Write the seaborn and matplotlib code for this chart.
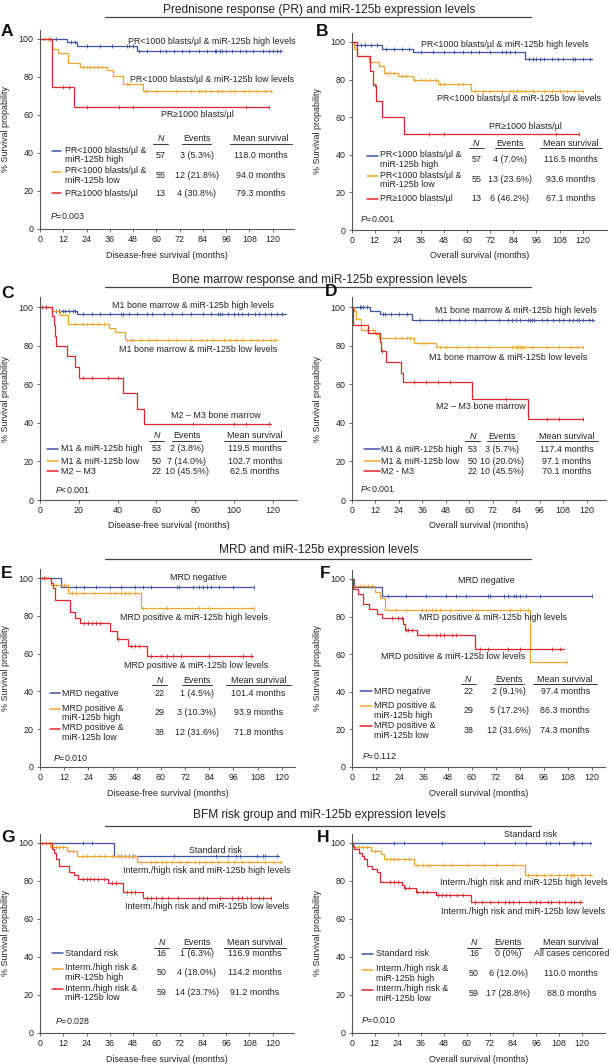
import numpy as np
import pandas as pd
import matplotlib
matplotlib.use("Agg")
import matplotlib.pyplot as plt
import seaborn as sns
from matplotlib.lines import Line2D

# ---------------- data (months, % survival) ----------------
# Panel A - PR & miR-125b, disease-free survival
a_hi_t = [0, 13.8, 19.3, 50]
a_hi_s = [100, 98.2, 96.5, 93.5]
a_hi_end = 124.6
a_hi_c = [5, 8, 16, 18, 24, 31, 37, 45, 46, 48, 51, 55, 62, 65, 69, 73, 77, 82, 86, 90,
          91, 93, 94, 96, 99, 103, 106, 110, 115, 118, 120, 122, 124]
a_lo_t = [0, 6, 9.5, 14.6, 20.6, 34.7, 37.8, 43, 53]
a_lo_s = [100, 94.5, 92.7, 87.3, 85.5, 83.6, 80.6, 76.4, 72.8]
a_lo_end = 119.5
a_lo_c = [2, 4, 22, 24, 26, 28, 30, 32, 45, 46, 54, 55, 60, 70, 78, 82, 83, 85, 88, 92,
          94, 98, 100, 105, 108, 112, 116, 119]
a_pr_t = [0, 6, 17.5]
a_pr_s = [100, 75, 64.2]
a_pr_end = 118
a_pr_c = [12, 15, 24, 41, 48, 106, 118]

# Panel B - PR & miR-125b, overall survival
b_hi_t = [0, 1.4, 16, 32, 90]
b_hi_s = [100, 98.2, 96.5, 94.7, 90.8]
b_hi_end = 125
b_hi_c = [3, 5, 7, 10, 13, 18, 22, 26, 30, 36, 42, 48, 53, 58, 62, 66, 72, 78, 80, 82,
          85, 92, 94, 96, 98, 100, 104, 107, 110, 115, 116, 120, 124]
b_lo_t = [0, 1, 3, 9, 14, 17, 24, 32, 45, 62]
b_lo_s = [100, 96.4, 92.7, 89.1, 87.3, 83.6, 81.8, 80, 77.6, 74.2]
b_lo_end = 120
b_lo_c = [18, 20, 22, 26, 28, 33, 36, 38, 40, 44, 46, 48, 55, 58, 64, 68, 72, 78, 82, 84,
          86, 88, 90, 94, 100, 104, 108, 112, 116, 120]
b_pr_t = [0, 3, 9.5, 11, 12.5, 15.5, 27]
b_pr_s = [100, 92.3, 84.6, 76.9, 68.4, 60, 51.3]
b_pr_end = 118
b_pr_c = [12, 40, 48, 106, 118]

# Panel C - bone marrow & miR-125b, disease-free survival
c_hi_t = [0, 6, 19.3]
c_hi_s = [100, 98.1, 96.2]
c_hi_end = 127
c_hi_c = [1, 3, 8, 10, 12, 13, 15, 17, 18, 22, 27, 31, 36, 42, 43, 46, 50, 55, 58, 64,
          68, 73, 78, 84, 88, 92, 93, 94, 97, 100, 102, 104, 107, 111, 113, 116, 119, 122, 125]
c_lo_t = [0, 6, 10.3, 14.6, 35.8, 38.7, 43.8]
c_lo_s = [100, 98, 96, 91, 89, 87, 82.7]
c_lo_end = 122
c_lo_c = [18, 22, 24, 27, 30, 33, 45, 47, 48, 52, 56, 60, 66, 70, 78, 83, 86, 89, 95, 98,
          101, 104, 109, 112, 115, 119, 121]
c_m23_t = [0, 6, 7, 7.5, 8, 14, 18, 20, 43, 50, 53.5]
c_m23_s = [100, 95.5, 90.9, 85, 80, 74.5, 68.8, 63.2, 55.3, 47.3, 39.5]
c_m23_end = 119
c_m23_c = [3, 22, 27, 35, 40, 79, 100, 106, 118]

# Panel D - bone marrow & miR-125b, overall survival
d_hi_t = [0, 9.2, 14.6, 31]
d_hi_s = [100, 98.1, 96.2, 93.4]
d_hi_end = 124
d_hi_c = [4, 5, 6, 8, 16, 17, 20, 24, 28, 35, 44, 46, 50, 55, 58, 63, 68, 75, 80, 82, 84,
          86, 90, 91, 92, 93, 97, 100, 103, 106, 108, 111, 113, 115, 116, 118, 121, 123]
d_lo_t = [0, 1, 2, 5, 12, 14, 32, 43]
d_lo_s = [100, 98, 94, 88, 86, 84, 81.6, 79.2]
d_lo_end = 118
d_lo_c = [8, 11, 22, 25, 28, 30, 36, 38, 45, 48, 54, 60, 64, 70, 82, 84, 85, 86, 87, 88,
          92, 100, 106, 112, 115, 118]
d_m23_t = [0, 0.5, 8.4, 14.3, 15, 17.3, 25, 26.4, 61.3, 89.8]
d_m23_s = [100, 90.9, 86.4, 81.8, 77, 71.5, 66, 61.3, 52.6, 42.1]
d_m23_end = 118
d_m23_c = [15.5, 32, 38, 44, 50, 79, 100, 106, 118]

# Panel E - MRD & miR-125b, disease-free survival
e_neg_t = [0, 10.3]
e_neg_s = [100, 95.5]
e_neg_end = 106.3
e_neg_c = [2, 14, 18, 22, 28, 35, 40, 47, 51, 55, 68, 69, 76, 79, 81, 83, 85, 89, 96, 106]
e_hi_t = [0, 5.5, 14, 50]
e_hi_s = [100, 96.5, 92.3, 83.9]
e_hi_end = 106.3
e_hi_c = [1, 3, 8, 12, 16, 18, 22, 27, 35, 37, 40, 42, 44, 47, 51, 63, 79, 84, 106]
e_lo_t = [0, 5.5, 6.5, 7.5, 15, 17.5, 20, 35, 38, 43.5, 53]
e_lo_s = [100, 97.4, 94.7, 88.3, 82, 79, 76, 72, 68, 64, 58.5]
e_lo_end = 105.6
e_lo_c = [22, 24, 26, 28, 30, 38.5, 45, 47, 49, 55, 60, 63, 66, 70, 84, 101, 105]

# Panel F - MRD & miR-125b, overall survival
f_neg_t = [0, 1.3, 15]
f_neg_s = [100, 95.5, 90.9]
f_neg_end = 120
f_neg_c = [18, 27, 37, 47, 52, 57, 68, 69, 76, 78, 81, 82, 84, 87, 94, 120]
f_hi_t = [0, 0.5, 11.5, 14, 16.4, 89]
f_hi_s = [100, 96.5, 93, 89.7, 83.6, 56]
f_hi_end = 107.5
f_hi_c = [4, 6, 8, 10, 22, 27, 35, 37, 40, 42, 44, 49, 60, 79, 84, 88, 107]
f_lo_t = [0, 0.5, 3.3, 5.5, 8.7, 12.5, 15, 25.8, 26.7, 32.5, 61.7]
f_lo_s = [100, 94.7, 92.1, 86.8, 84.2, 81.6, 79, 76.3, 73.1, 70, 63]
f_lo_end = 106
f_lo_c = [20, 23, 25, 27, 28, 30, 38, 42, 44, 46, 50, 52, 64, 68, 78, 84, 100, 104]

# Panel G - BFM risk & miR-125b, disease-free survival
g_std_t = [0, 38.3]
g_std_s = [100, 93]
g_std_end = 123.4
g_std_c = [22, 27, 40, 42, 46, 48, 69, 91, 97, 101, 103, 112, 115, 116, 122]
g_hi_t = [0, 5.2, 13.8, 19, 50]
g_hi_s = [100, 98, 96, 93, 90.2]
g_hi_end = 124.6
g_hi_c = [1, 3, 5, 8, 10, 12, 15, 17, 22, 24, 28, 31, 33, 37, 40, 42, 44, 46, 49, 52, 57,
          60, 63, 65, 68, 72, 76, 80, 82, 85, 88, 92, 97, 100, 104, 108, 112, 116, 120, 124]
g_lo_t = [0, 6, 7, 8.3, 10, 15.1, 17.5, 19.8, 35.2, 43, 53]
g_lo_s = [100, 96.6, 94.9, 91.5, 88.1, 84.7, 83, 81.2, 79, 74, 71.3]
g_lo_end = 119
g_lo_c = [22, 24, 26, 28, 30, 33, 37, 39, 45, 47, 49, 55, 57, 60, 63, 66, 71, 82, 84, 86,
          93, 99, 102, 104, 107, 109, 113, 115, 119]

# Panel H - BFM risk & miR-125b, overall survival
h_std_t = [0]
h_std_s = [100]
h_std_end = 124.8
h_std_c = [22, 27, 47, 69, 85, 91, 101, 103, 108, 115, 116, 120, 124]
h_hi_t = [0, 0.5, 9.9, 15, 16.8, 32.4, 90]
h_hi_s = [100, 98, 96, 94, 91.4, 88.6, 83.3]
h_hi_end = 125
h_hi_c = [4, 6, 8, 12, 18, 20, 22, 24, 28, 30, 34, 37, 39, 41, 48, 52, 60, 69, 75, 84, 92,
          96, 100, 104, 108, 112, 114, 115, 116, 120, 124]
h_lo_t = [0, 0.5, 1.2, 3.8, 5.2, 6.4, 8.1, 10.8, 13.4, 14.7, 26.4, 27.2, 33.3, 43.7, 61.9]
h_lo_s = [100, 98.3, 96.6, 94.9, 93.2, 91.5, 88.1, 86.4, 84.7, 79.7, 77.9, 76.1, 74.4, 72.5, 69.1]
h_lo_end = 120
h_lo_c = [20, 22, 24, 28, 30, 34, 37, 39, 45, 47, 49, 51, 55, 58, 64, 68, 72, 76, 80, 82,
          84, 87, 93, 96, 98, 102, 104, 108, 111, 114, 116, 119]

# table text
pr_legend = ["PR<1000 blasts/µl &\nmiR-125b high", "PR<1000 blasts/µl &\nmiR-125b low", "PR≥1000 blasts/µl"]
bm_legend_c = ["M1 & miR-125b high", "M1 & miR-125b low", "M2 – M3"]
bm_legend_d = ["M1 & miR-125b high", "M1 & miR-125b low", "M2 - M3"]
mrd_legend = ["MRD negative", "MRD positive &\nmiR-125b high", "MRD positive &\nmiR-125b low"]
bfm_legend = ["Standard risk", "Interm./high risk &\nmiR-125b high", "Interm./high risk &\nmiR-125b low"]

a_n, a_ev, a_mean = [57, 55, 13], ["3 (5.3%)", "12 (21.8%)", "4 (30.8%)"], ["118.0 months", "94.0 months", "79.3 months"]
b_n, b_ev, b_mean = [57, 55, 13], ["4 (7.0%)", "13 (23.6%)", "6 (46.2%)"], ["116.5 months", "93.6 months", "67.1 months"]
c_n, c_ev, c_mean = [53, 50, 22], ["2 (3.8%)", "7 (14.0%)", "10 (45.5%)"], ["119.5 months", "102.7 months", "62.5 months"]
d_n, d_ev, d_mean = [53, 50, 22], ["3 (5.7%)", "10 (20.0%)", "10 (45.5%)"], ["117.4 months", "97.1 months", "70.1 months"]
e_n, e_ev, e_mean = [22, 29, 38], ["1 (4.5%)", "3 (10.3%)", "12 (31.6%)"], ["101.4 months", "93.9 months", "71.8 months"]
f_n, f_ev, f_mean = [22, 29, 38], ["2 (9.1%)", "5 (17.2%)", "12 (31.6%)"], ["97.4 months", "86.3 months", "74.3 months"]
g_n, g_ev, g_mean = [16, 50, 59], ["1 (6.3%)", "4 (18.0%)", "14 (23.7%)"], ["116.9 months", "114.2 months", "91.2 months"]
h_n, h_ev, h_mean = [16, 50, 59], ["0 (0%)", "6 (12.0%)", "17 (28.8%)"], ["All cases cencored", "110.0 months", "88.0 months"]

p_values = ["=0.003", "=0.001", "<0.001", "<0.001", "=0.010", "=0.112", "=0.028", "=0.010"]

section_titles = ["Prednisone response (PR) and miR-125b expression levels",
                  "Bone marrow response and miR-125b expression levels",
                  "MRD and miR-125b expression levels",
                  "BFM risk group and miR-125b expression levels"]

# ---------------- style ----------------
FS = 6.4
sns.set_theme(style="ticks", rc={
    "axes.edgecolor": "#555555", "axes.linewidth": 0.8,
    "xtick.color": "#555555", "ytick.color": "#555555",
    "xtick.labelcolor": "#222222", "ytick.labelcolor": "#222222",
    "xtick.major.size": 2.5, "ytick.major.size": 2.5,
    "xtick.major.width": 0.6, "ytick.major.width": 0.6,
    "xtick.labelsize": FS, "ytick.labelsize": FS,
    "axes.labelsize": FS, "axes.labelcolor": "#222222",
    "xtick.major.pad": 2, "ytick.major.pad": 2,
})
plt.rcParams["font.family"] = ["Liberation Sans", "DejaVu Sans"]
plt.rcParams["mathtext.fontset"] = "custom"
plt.rcParams["mathtext.rm"] = "Liberation Sans"
plt.rcParams["mathtext.it"] = "Liberation Sans:italic"

pal = {"g1": "#3d54a5", "g2": "#f5a42c", "g3": "#e2242b"}
W, H = 611, 1064
fig = plt.figure(figsize=(W / 100, H / 100), dpi=100)


def step_value(t, s, x):
    return s[np.searchsorted(t, x, side="right") - 1]


def draw_panel(rect, xmax, xticks, groups, xlabel, curve_labels, legend, table, p_text, p_xy):
    left, top, wd, ht = rect
    ax = fig.add_axes([left / W, 1 - (top + ht) / H, wd / W, ht / H])
    rows, crows = [], []
    for key, (t, s, end, cens) in zip(["g1", "g2", "g3"], groups):
        for ti, si in zip(t + [end], s + [s[-1]]):
            rows.append((ti, si, key))
        for c in cens:
            crows.append((c, step_value(np.array(t), np.array(s), c), key))
    df = pd.DataFrame(rows, columns=["t", "s", "g"])
    cdf = pd.DataFrame(crows, columns=["t", "s", "g"])
    sns.lineplot(data=df, x="t", y="s", hue="g", palette=pal, drawstyle="steps-post",
                 estimator=None, sort=False, legend=False, linewidth=0.9, ax=ax)
    for key in ["g1", "g2", "g3"]:
        sub = cdf[cdf.g == key]
        sns.scatterplot(x=sub.t, y=sub.s, color=pal[key], marker="|", s=11,
                        linewidth=0.6, legend=False, ax=ax)
    ax.set_xlim(0, xmax)
    ax.set_ylim(0, 105)
    ax.set_xticks(xticks)
    ax.set_yticks([0, 20, 40, 60, 80, 100])
    ax.set_xlabel(xlabel, labelpad=4.5)
    ax.set_ylabel("% Survival propability", labelpad=6)
    sns.despine(ax=ax)

    for txt, x, y in curve_labels:
        ax.text(x, y, txt, fontsize=FS, ha="center", va="center", color="#222222")

    lx0, lx1, tx, hy, cols, rys = legend
    labels, ns, evs, means = table
    under = [3.8, 7.5, 16]
    for cx, head, uw in zip(cols, ["N", "Events", "Mean survival"], under):
        ax.text(cx, hy, head, fontsize=FS, ha="center", va="center", color="#222222",
                fontstyle="italic" if head == "N" else "normal")
        ax.plot([cx - uw, cx + uw], [hy - 2.7, hy - 2.7], color="#333333", lw=0.7)
    for key, lab, n, ev, mn, ry in zip(["g1", "g2", "g3"], labels, ns, evs, means, rys):
        ly = ry + (2.0 if "\n" in lab else 0)
        ax.plot([lx0, lx1], [ly, ly], color=pal[key], lw=1.1)
        ax.text(tx, ry, lab, fontsize=FS, ha="left", va="center", color="#222222",
                linespacing=1.1)
        ax.text(cols[0], ry, str(n), fontsize=FS, ha="center", va="center", color="#222222")
        ax.text(cols[1], ry, ev, fontsize=FS, ha="center", va="center", color="#222222")
        ax.text(cols[2], ry, mn, fontsize=FS, ha="center", va="center", color="#222222")
    ax.text(p_xy[0], p_xy[1], r"$\mathit{P}$" + p_text, fontsize=FS, ha="left",
            va="center", color="#222222")
    return ax


m12 = list(range(0, 121, 12))
dfs = "Disease-free survival (months)"
os_ = "Overall survival (months)"

draw_panel((40, 29.5, 254, 199.5), 131, m12,
           [(a_hi_t, a_hi_s, a_hi_end, a_hi_c), (a_lo_t, a_lo_s, a_lo_end, a_lo_c),
            (a_pr_t, a_pr_s, a_pr_end, a_pr_c)], dfs,
           [("PR<1000 blasts/µl & miR-125b high levels", 88.6, 98.8),
            ("PR<1000 blasts/µl & miR-125b low levels", 88.6, 78.6),
            ("PR≥1000 blasts/µl", 81, 60.2)],
           (6, 11, 12.9, 47.4, [62.2, 80.8, 113.8], [38.9, 28.1, 18.9]),
           (pr_legend, a_n, a_ev, a_mean), p_values[0], (5.2, 6.7))

draw_panel((351.7, 32.6, 255, 197.4), 132.5, m12,
           [(b_hi_t, b_hi_s, b_hi_end, b_hi_c), (b_lo_t, b_lo_s, b_lo_end, b_lo_c),
            (b_pr_t, b_pr_s, b_pr_end, b_pr_c)], os_,
           [("PR<1000 blasts/µl & miR-125b high levels", 79.8, 98.9),
            ("PR<1000 blasts/µl & miR-125b low levels", 86.8, 70),
            ("PR≥1000 blasts/µl", 90, 55)],
           (7.8, 13.9, 14.8, 46.1, [64.7, 82, 114], [37.4, 26.6, 16.5]),
           (pr_legend, b_n, b_ev, b_mean), p_values[1], (4.3, 5.9))

draw_panel((40, 297.4, 257, 202.6), 132.5, list(range(0, 121, 20)),
           [(c_hi_t, c_hi_s, c_hi_end, c_hi_c), (c_lo_t, c_lo_s, c_lo_end, c_lo_c),
            (c_m23_t, c_m23_s, c_m23_end, c_m23_c)], dfs,
           [("M1 bone marrow & miR-125b high levels", 79, 100.7),
            ("M1 bone marrow & miR-125b low levels", 81.7, 77.9),
            ("M2 – M3 bone marrow", 90.7, 44)],
           (3.4, 9.5, 10.7, 33.2, [60.2, 75.6, 110.9], [26.5, 20.2, 15]),
           (bm_legend_c, c_n, c_ev, c_mean), p_values[2], (7.7, 5.2))

draw_panel((351.7, 297.4, 254.5, 202.6), 130, m12,
           [(d_hi_t, d_hi_s, d_hi_end, d_hi_c), (d_lo_t, d_lo_s, d_lo_end, d_lo_c),
            (d_m23_t, d_m23_s, d_m23_end, d_m23_c)], os_,
           [("M1 bone marrow & miR-125b high levels", 84, 98.3),
            ("M1 bone marrow & miR-125b low levels", 80, 74.1),
            ("M2 – M3 bone marrow", 65.8, 48.6)],
           (6.4, 14.3, 15.1, 33.1, [61.8, 76.8, 110], [26.4, 20.2, 15]),
           (bm_legend_d, d_n, d_ev, d_mean), p_values[3], (4.2, 5.7))

draw_panel((40, 568.6, 255, 198.4), 126.6, m12,
           [(e_neg_t, e_neg_s, e_neg_end, e_neg_c), (e_hi_t, e_hi_s, e_hi_end, e_hi_c),
            (e_lo_t, e_lo_s, e_lo_end, e_lo_c)], dfs,
           [("MRD negative", 78.6, 100.2),
            ("MRD positive & miR-125b high levels", 76.5, 79.1),
            ("MRD positive & miR-125b low levels", 77.3, 53.9)],
           (5, 9.9, 10.9, 46, [59.3, 77.8, 108.4], [39, 28.6, 18.2]),
           (mrd_legend, e_n, e_ev, e_mean), p_values[4], (6.6, 4.7))

draw_panel((351.7, 569.6, 253.5, 197.4), 126.7, m12,
           [(f_neg_t, f_neg_s, f_neg_end, f_neg_c), (f_hi_t, f_hi_s, f_hi_end, f_hi_c),
            (f_lo_t, f_lo_s, f_lo_end, f_lo_c)], os_,
           [("MRD negative", 67.2, 99.1),
            ("MRD positive & miR-125b high levels", 70.7, 79.6),
            ("MRD positive & miR-125b low levels", 50.7, 58.8)],
           (4.2, 10, 11.2, 46.7, [58.3, 78.7, 106.7], [40.2, 30.2, 19.6]),
           (mrd_legend, f_n, f_ev, f_mean), p_values[5], (5, 5.7))

draw_panel((40, 833.5, 254, 199.5), 131, m12,
           [(g_std_t, g_std_s, g_std_end, g_std_c), (g_hi_t, g_hi_s, g_hi_end, g_hi_c),
            (g_lo_t, g_lo_s, g_lo_end, g_lo_c)], dfs,
           [("Standard risk", 90.3, 96.2),
            ("Interm./high risk and miR-125b high levels", 86, 85.3),
            ("Interm./high risk and miR-125b low levels", 86.2, 66.8)],
           (6, 11.7, 12.9, 47.7, [62.7, 80.8, 110.9], [42, 31.8, 21.1]),
           (bfm_legend, g_n, g_ev, g_mean), p_values[6], (7.7, 6.1))

draw_panel((351.7, 833.5, 253.5, 199.5), 132, m12,
           [(h_std_t, h_std_s, h_std_end, h_std_c), (h_hi_t, h_hi_s, h_hi_end, h_hi_c),
            (h_lo_t, h_lo_s, h_lo_end, h_lo_c)], os_,
           [("Standard risk", 93.1, 104.4),
            ("Interm./high risk and miR-125b high levels", 89.6, 79.3),
            ("Interm./high risk and miR-125b low levels", 89.3, 64)],
           (5.2, 11.1, 12.5, 47.7, [63.6, 81.5, 114.3], [41.8, 31.4, 20.8]),
           (bfm_legend, h_n, h_ev, h_mean), p_values[7], (4.7, 6.7))

# section titles with rule underneath
for title, ty, ly in zip(section_titles, [9.5, 279.5, 550, 815], [16.5, 287, 559, 826]):
    fig.text(319 / W, 1 - ty / H, title, fontsize=8.6, ha="center", va="center", color="#222222")
    fig.add_artist(Line2D([105 / W, 531 / W], [1 - ly / H, 1 - ly / H], color="#444444", lw=0.9))

# panel letters
for letter, lx, ly in [("A", 1, 31), ("B", 316, 31), ("C", 1, 293), ("D", 325, 292),
                       ("E", 1, 573), ("F", 320, 573), ("G", 1, 838), ("H", 317, 838)]:
    fig.text(lx / W, 1 - ly / H, letter, fontsize=12.5, fontweight="bold", ha="left",
             va="center", color="#111111")

fig.savefig("out.png", dpi=100)
